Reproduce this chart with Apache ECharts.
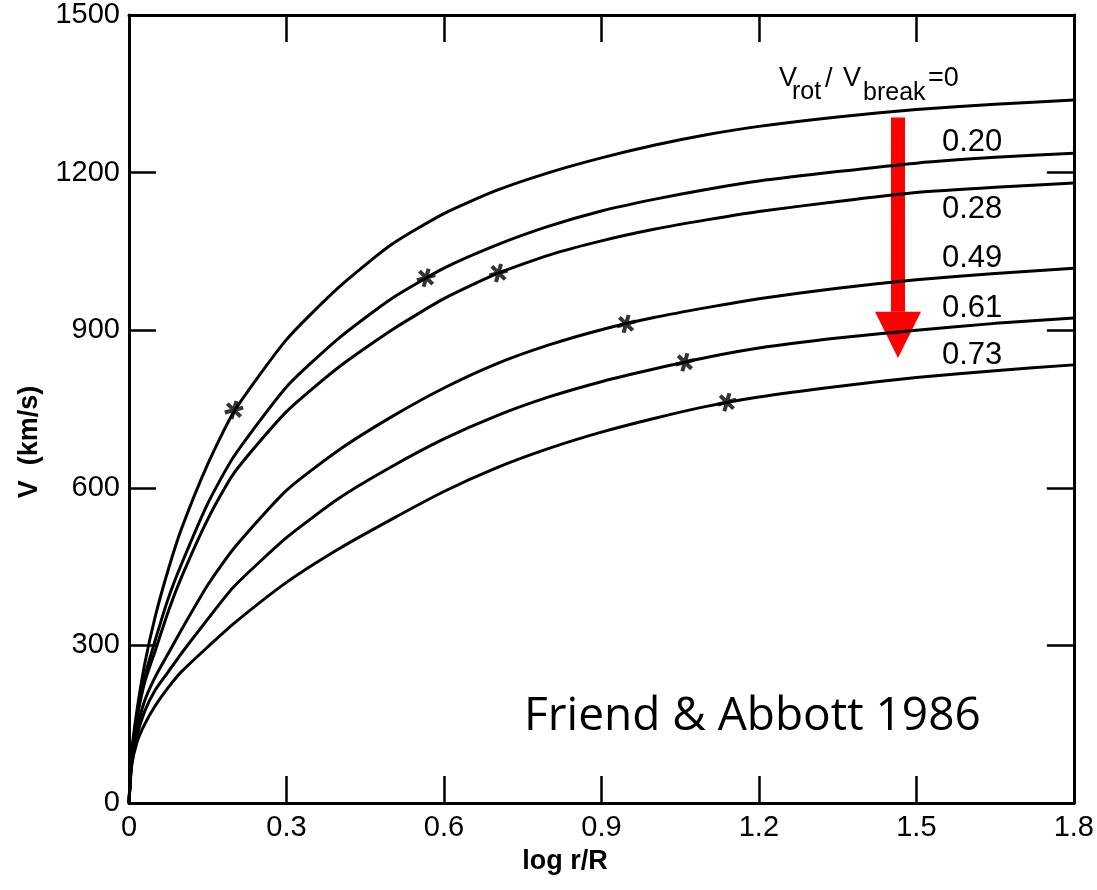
<!DOCTYPE html>
<html><head><meta charset="utf-8">
<script src="https://cdn.jsdelivr.net/npm/echarts@6/dist/echarts.min.js"></script>
<style>html,body{margin:0;padding:0;background:#fff}#c{width:1097px;height:890px}</style>
</head><body><div id="c"></div>
<script>
// log r/R sample positions
const xs = [0, 0.005, 0.015, 0.03, 0.05, 0.075, 0.1, 0.15, 0.2, 0.3, 0.4, 0.5, 0.6, 0.7, 0.8, 0.9, 1.0, 1.1, 1.2, 1.35, 1.5, 1.65, 1.8];
// V (km/s) for each Vrot/Vbreak
const v000 = [0, 95, 175, 265, 355, 445, 522, 645, 745, 882, 982, 1063, 1122, 1166, 1200, 1228, 1252, 1272, 1288, 1306, 1320, 1330, 1338];
const v020 = [0, 90, 165, 240, 310, 390, 455, 570, 660, 792, 885, 960, 1018, 1062, 1098, 1127, 1149, 1168, 1184, 1202, 1218, 1229, 1237];
const v028 = [0, 88, 160, 230, 290, 365, 430, 540, 628, 745, 830, 900, 960, 1007, 1043, 1070, 1092, 1110, 1126, 1145, 1162, 1172, 1180];
const v049 = [0, 80, 140, 195, 240, 285, 330, 415, 485, 595, 672, 735, 790, 836, 872, 901, 924, 943, 960, 980, 996, 1008, 1018];
const v061 = [0, 75, 128, 175, 215, 250, 285, 350, 412, 505, 580, 640, 693, 737, 773, 802, 826, 848, 866, 885, 900, 913, 923];
const v073 = [0, 70, 115, 150, 185, 220, 250, 297, 342, 420, 484, 540, 593, 638, 675, 706, 732, 755, 773, 793, 810, 823, 834];
const curveLabels = ['0', '0.20', '0.28', '0.49', '0.61', '0.73'];
// asterisk markers (sonic points)
const starX = [0.2, 0.566, 0.704, 0.947, 1.059, 1.139];
const starV = [748, 1000, 1009, 912, 839, 763];
// tick labels
const xTicks = [0, 0.3, 0.6, 0.9, 1.2, 1.5, 1.8];
const yTicks = [0, 300, 600, 900, 1200, 1500];

const FONT = 'Liberation Sans';
const curves = [v000, v020, v028, v049, v061, v073];
const chart = echarts.init(document.getElementById('c'), null, {renderer: 'canvas'});

const axisLine = {show: true, onZero: false, lineStyle: {color: '#000', width: 3}};
const axisTick = {show: true, inside: true, length: 27, lineStyle: {color: '#000', width: 2.5}};
const xLab = {color: '#000', fontSize: 29, fontFamily: FONT, margin: 10, formatter: v => String(v)};
const yLab = {color: '#000', fontSize: 29, fontFamily: FONT, margin: 9, formatter: v => String(v)};

const series = curves.map((c, i) => ({
  type: 'line', name: curveLabels[i], showSymbol: false, smooth: 0.2,
  lineStyle: {color: '#000', width: 3}, animation: false,
  data: xs.map((x, k) => [x, c[k]])
}));
series.push({
  type: 'scatter', name: 'stars', animation: false,
  symbol: 'path://M-8,-1.7L8,-1.7L8,1.7L-8,1.7Z M-2.53,-7.78L5.47,6.08L2.53,7.78L-5.47,-6.08Z M5.47,-6.08L-2.53,7.78L-5.47,6.08L2.53,-7.78Z',
  symbolSize: [19, 18], symbolRotate: 15,
  itemStyle: {color: '#000'},
  data: starX.map((x, i) => [x, starV[i]])
});

chart.setOption({
  backgroundColor: '#fff',
  animation: false,
  grid: {left: 129, right: 20, top: 15, bottom: 87},
  xAxis: [
    {type: 'value', min: xTicks[0], max: xTicks[xTicks.length - 1], interval: 0.3, position: 'bottom',
     axisLine, axisTick, axisLabel: xLab, splitLine: {show: false}},
    {type: 'value', min: xTicks[0], max: xTicks[xTicks.length - 1], interval: 0.3, position: 'top',
     axisLine, axisTick, axisLabel: {show: false}, splitLine: {show: false}}
  ],
  yAxis: [
    {type: 'value', min: yTicks[0], max: yTicks[yTicks.length - 1], interval: 300, position: 'left',
     axisLine, axisTick, axisLabel: yLab, splitLine: {show: false}},
    {type: 'value', min: yTicks[0], max: yTicks[yTicks.length - 1], interval: 300, position: 'right',
     axisLine, axisTick, axisLabel: {show: false}, splitLine: {show: false}}
  ],
  series: series
});

// annotations
const P = (x, y) => chart.convertToPixel({gridIndex: 0}, [x, y]);
const arrowX = 1.465, arrowTop = 1305, arrowBase = 935, arrowTip = 847;
const pTop = P(arrowX, arrowTop), pBase = P(arrowX, arrowBase), pTip = P(arrowX, arrowTip);
const txt = (text, x, y, size, extra) => Object.assign({type: 'text', x: x, y: y, style: {text: text, fill: '#000', font: size + 'px "' + FONT + '"', textVerticalAlign: 'top'}}, extra || {});
const graphics = [
  {type: 'rect', shape: {x: pTop[0] - 7, y: pTop[1], width: 14, height: pBase[1] - pTop[1]}, style: {fill: '#ff0000'}},
  {type: 'polygon', shape: {points: [[pBase[0] - 23, pBase[1]], [pBase[0] + 23, pBase[1]], [pTip[0], pTip[1]]]}, style: {fill: '#ff0000'}},
  txt('V', 779, 65, 27), txt('rot', 792, 80, 25), txt('/', 825, 66, 27),
  txt('V', 843, 65, 27), txt('break', 863, 81, 25), txt('=0', 928, 65, 27),
  txt(curveLabels[1], 942, 127, 31), txt(curveLabels[2], 942, 194, 31), txt(curveLabels[3], 942, 243, 31),
  txt(curveLabels[4], 942, 293, 31), txt(curveLabels[5], 942, 340, 31),
  {type: 'text', x: 524, y: 694, style: {text: 'Friend & Abbott 1986', fill: '#000', font: '46px "Open Sans"', textVerticalAlign: 'top'}},
  {type: 'text', x: 565, y: 862, style: {text: 'log r/R', fill: '#000', font: 'bold 27px "' + FONT + '"', textAlign: 'center', textVerticalAlign: 'middle'}},
  {type: 'text', x: 30, y: 442, rotation: Math.PI / 2, style: {text: 'V  (km/s)', fill: '#000', font: 'bold 27px "' + FONT + '"', textAlign: 'center', textVerticalAlign: 'middle'}}
];
chart.setOption({graphic: graphics});
</script></body></html>
